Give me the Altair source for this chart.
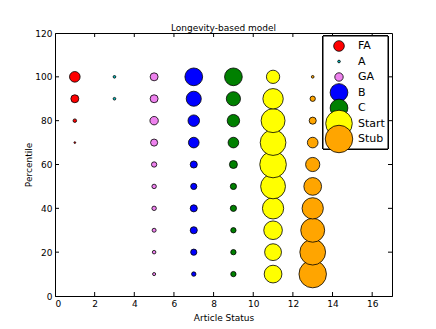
import altair as alt
import pandas as pd
import math

percentiles = [10, 20, 30, 40, 50, 60, 70, 80, 90, 100]
categories = ["FA", "A", "GA", "B", "C", "Start", "Stub"]
status_x = [1, 3, 5, 7, 9, 11, 13]
colors = ["#ff0000", "#00bfbf", "#ee82ee", "#0000ff", "#008000", "#ffff00", "#ffa500"]

# marker diameters (px), percentile 10 -> 100
fa = [0, 0, 0, 0, 0, 0, 2, 4, 9, 12]
a = [0, 0, 0, 0, 0, 0, 0, 0, 3, 3]
ga = [3.5, 4, 4.5, 5, 5, 6, 8, 9.5, 9, 9]
b = [5, 7, 8, 8, 7, 8, 12, 13, 17, 20]
c = [6, 6, 6, 7, 7, 9, 12, 14, 16, 20]
start = [20, 19, 21, 24, 28, 30, 29, 27, 23, 15]
stub = [31, 29, 27, 24, 20, 16, 12, 8, 6, 3]

series = [fa, a, ga, b, c, start, stub]

x_ticks = [0, 2, 4, 6, 8, 10, 12, 14, 16]
y_ticks = [0, 20, 40, 60, 80, 100, 120]

rows = []
for cat, xv, vals in zip(categories, status_x, series):
    for p, d in zip(percentiles, vals):
        if d > 0:
            rows.append({"status": xv, "pct": p, "series": cat, "area": math.pi * d * d / 4})
df = pd.DataFrame(rows)

legend_df = pd.DataFrame({
    "series": categories,
    "area": [math.pi * max(v) ** 2 / 4 for v in series],
})

W, H = 337, 263
xs = alt.Scale(domain=[0, 17], nice=False)
ys = alt.Scale(domain=[0, 120], nice=False)
color_scale = alt.Scale(domain=categories, range=colors)
FONT = "DejaVu Sans"

x_axis = alt.Axis(values=x_ticks, tickSize=0, labelPadding=3, titlePadding=5, grid=False)
y_axis = alt.Axis(values=y_ticks, tickSize=0, labelPadding=3, titlePadding=1, grid=False)

points = alt.Chart(df).mark_circle(opacity=1, stroke="black", strokeWidth=0.8).encode(
    x=alt.X("status:Q", scale=xs, title="Article Status", axis=x_axis),
    y=alt.Y("pct:Q", scale=ys, title="Percentile", axis=y_axis),
    color=alt.Color("series:N", scale=color_scale, legend=None),
    size=alt.Size("area:Q", scale=None, legend=None),
)

xt = pd.DataFrame({"v": x_ticks[1:]})
yt = pd.DataFrame({"v": y_ticks[1:-1]})
tick_style = dict(color="black", strokeWidth=1)
bottom_ticks = alt.Chart(xt).mark_rule(**tick_style).encode(
    x=alt.X("v:Q", scale=xs, title="Article Status", axis=x_axis), y=alt.value(H), y2=alt.value(H - 4))
top_ticks = alt.Chart(xt).mark_rule(**tick_style).encode(
    x=alt.X("v:Q", scale=xs, title="Article Status", axis=x_axis), y=alt.value(0), y2=alt.value(4))
left_ticks = alt.Chart(yt).mark_rule(**tick_style).encode(
    y=alt.Y("v:Q", scale=ys, title="Percentile", axis=y_axis), x=alt.value(0), x2=alt.value(4))
right_ticks = alt.Chart(yt).mark_rule(**tick_style).encode(
    y=alt.Y("v:Q", scale=ys, title="Percentile", axis=y_axis), x=alt.value(W), x2=alt.value(W - 4))

main = alt.layer(points, bottom_ticks, top_ticks, left_ticks, right_ticks)

# legend drawn as its own layer
leg_y = alt.Y("series:N", scale=alt.Scale(domain=categories, range=[13, 106], padding=0), axis=None)
legend_box = alt.Chart(legend_df).mark_rect(fill="white", stroke="black", strokeWidth=1).encode(
    x=alt.value(268), x2=alt.value(333), y=alt.value(3), y2=alt.value(116))
legend_syms = alt.Chart(legend_df).mark_circle(opacity=1, stroke="black", strokeWidth=0.8).encode(
    x=alt.value(284), y=leg_y,
    color=alt.Color("series:N", scale=color_scale, legend=None),
    size=alt.Size("area:Q", scale=None, legend=None),
)
legend_text = alt.Chart(legend_df).mark_text(align="left", baseline="middle", font=FONT,
                                             fontSize=11, color="black").encode(
    x=alt.value(303), y=leg_y, text="series:N")
legend = alt.layer(legend_box, legend_syms, legend_text)

chart = alt.layer(main, legend).resolve_scale(y="independent").properties(
    width=W, height=H,
    title=alt.Title("Longevity-based model", fontSize=9, fontWeight="normal", font=FONT,
                    color="black", offset=-4),
    autosize=alt.AutoSizeParams(type="none"),
    padding={"left": 47, "top": 25, "right": 36, "bottom": 30},
).configure_view(
    stroke="black", strokeWidth=1
).configure_axis(
    labelFont=FONT, titleFont=FONT, labelFontSize=9, titleFontSize=9,
    titleFontWeight="normal", labelColor="black", titleColor="black",
    domainColor="black", domainWidth=1,
)

chart.save("out.html", embed_options={"renderer": "svg", "actions": False})
